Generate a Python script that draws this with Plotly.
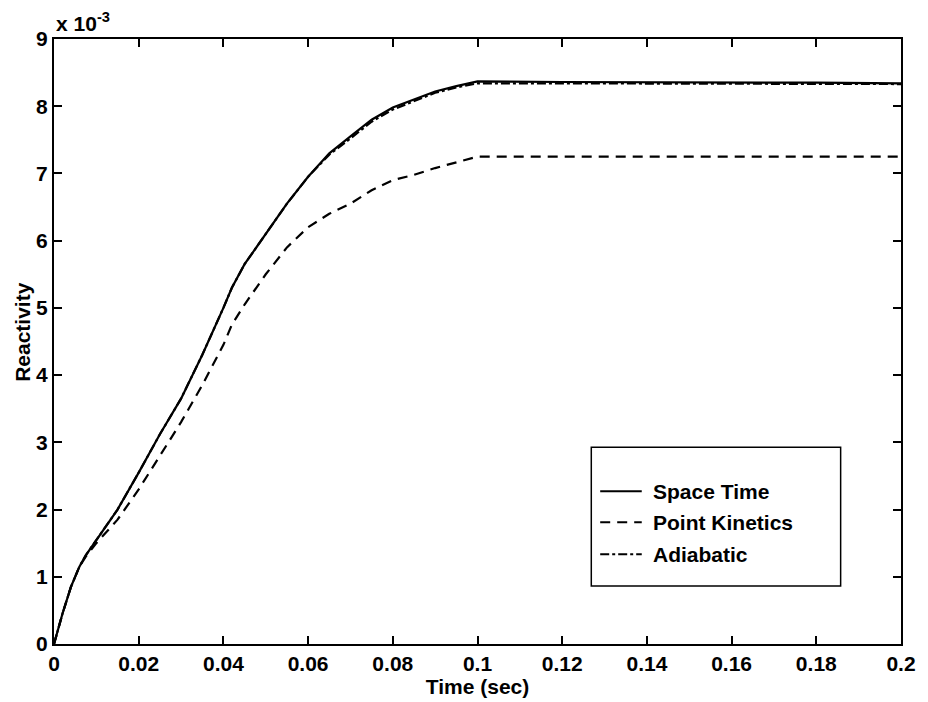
import plotly.graph_objects as go

# Time (sec)
time = [0, 0.002, 0.004, 0.006, 0.0075, 0.01, 0.015, 0.02, 0.025, 0.03, 0.035,
        0.04, 0.042, 0.045, 0.05, 0.055, 0.06, 0.065, 0.07, 0.075, 0.08, 0.085,
        0.09, 0.095, 0.1, 0.12, 0.14, 0.16, 0.18, 0.2]
# Reactivity, in units of 1e-3
space_time = [0, 0.45, 0.85, 1.15, 1.32, 1.55, 2.0, 2.55, 3.12, 3.65, 4.3,
              5.0, 5.3, 5.65, 6.1, 6.55, 6.95, 7.3, 7.55, 7.8, 7.98, 8.1,
              8.22, 8.3, 8.37, 8.36, 8.36, 8.35, 8.35, 8.34]
point_kinetics = [0, 0.45, 0.85, 1.15, 1.3, 1.5, 1.85, 2.3, 2.8, 3.3, 3.85,
                  4.45, 4.75, 5.05, 5.5, 5.9, 6.2, 6.4, 6.55, 6.75, 6.9, 6.98,
                  7.08, 7.17, 7.25, 7.25, 7.25, 7.25, 7.25, 7.25]
adiabatic = [0, 0.45, 0.85, 1.15, 1.32, 1.55, 2.0, 2.55, 3.12, 3.65, 4.3,
             5.0, 5.3, 5.65, 6.1, 6.55, 6.95, 7.28, 7.52, 7.77, 7.95, 8.08,
             8.2, 8.28, 8.34, 8.34, 8.34, 8.33, 8.33, 8.33]

x_ticks = [0, 0.02, 0.04, 0.06, 0.08, 0.1, 0.12, 0.14, 0.16, 0.18, 0.2]
x_tick_text = ["0", "0.02", "0.04", "0.06", "0.08", "0.1", "0.12", "0.14", "0.16", "0.18", "0.2"]
y_ticks = [0, 1, 2, 3, 4, 5, 6, 7, 8, 9]
y_tick_text = [str(v) for v in y_ticks]

series_names = ["Space Time", "Point Kinetics", "Adiabatic"]
series_dash = ["solid", "10px,7px", "dashdot"]

FONT = dict(family="Liberation Sans, Arial, sans-serif", size=21, color="black", weight="bold")

fig = go.Figure()
for name, vals, dash in zip(series_names, [space_time, point_kinetics, adiabatic], series_dash):
    fig.add_trace(go.Scatter(x=time, y=vals, mode="lines", name=name,
                             line=dict(color="black", width=2.2, dash=dash),
                             showlegend=False))

axis_common = dict(showgrid=False, zeroline=False, showline=True, linecolor="black",
                   linewidth=2, mirror="ticks", ticks="inside", ticklen=8,
                   tickcolor="black", tickwidth=2, tickfont=FONT)

fig.update_xaxes(range=[0, 0.2], tickvals=x_ticks, ticktext=x_tick_text,
                 title=dict(text="Time (sec)", font=FONT, standoff=0), **axis_common)
fig.update_yaxes(range=[0, 9], tickvals=y_ticks, ticktext=y_tick_text, **axis_common)

W, H = 928, 702
L, R, T, B = 54, 18, 39, 57
pw, ph = W - L - R, H - T - B

def px(xp):
    return (xp - L) / pw

def py(yp):
    return (H - B - yp) / ph

annotations = [
    dict(text="x 10<sup>-3</sup>", xref="paper", yref="paper", x=px(54), y=py(37),
         xanchor="left", yanchor="bottom", showarrow=False, font=FONT),
    dict(text="Reactivity", xref="paper", yref="paper", x=px(22), y=py(332),
         xanchor="center", yanchor="middle", textangle=-90, showarrow=False, font=FONT),
]

# manual legend box
shapes = [dict(type="rect", xref="paper", yref="paper", x0=px(597), x1=px(849),
               y0=py(587), y1=py(448), line=dict(color="black", width=1.5),
               fillcolor="white", layer="above")]
legend_y = [492, 523, 555]
for name, dash, yy in zip(series_names, series_dash, legend_y):
    shapes.append(dict(type="line", xref="paper", yref="paper", x0=px(606), x1=px(648),
                       y0=py(yy), y1=py(yy), line=dict(color="black", width=2, dash=dash),
                       layer="above"))
    annotations.append(dict(text=name, xref="paper", yref="paper", x=px(657), y=py(yy),
                            xanchor="left", yanchor="middle", showarrow=False, font=FONT))

fig.update_layout(width=W, height=H, margin=dict(l=L, r=R, t=T, b=B),
                  paper_bgcolor="white", plot_bgcolor="white",
                  shapes=shapes, annotations=annotations, showlegend=False)

fig.write_html("out.html")
